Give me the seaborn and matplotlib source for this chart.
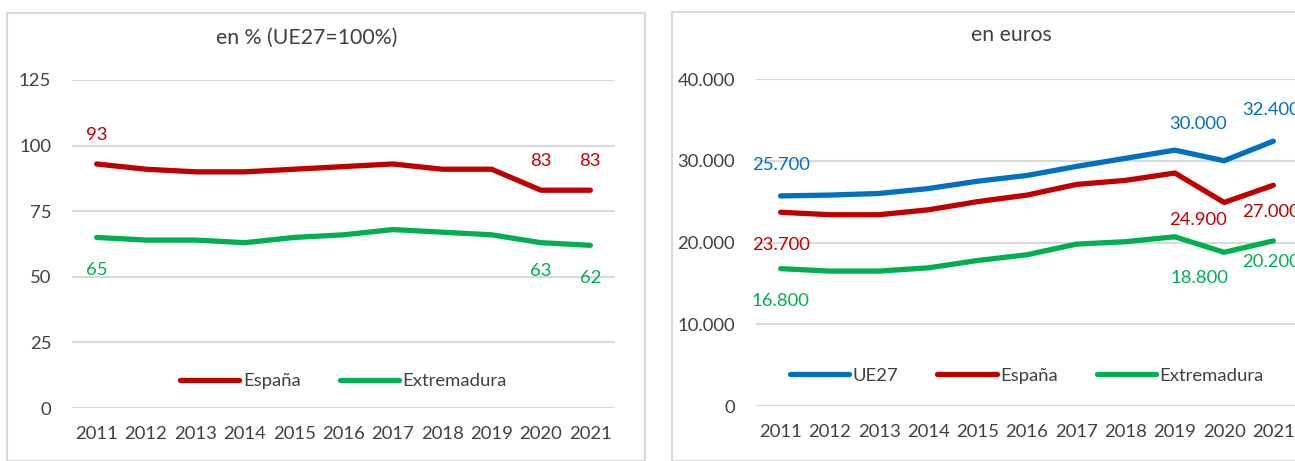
import matplotlib
matplotlib.use("Agg")
import matplotlib.pyplot as plt
from matplotlib.patches import Rectangle
import pandas as pd
import seaborn as sns

# Data
years = [2011, 2012, 2013, 2014, 2015, 2016, 2017, 2018, 2019, 2020, 2021]

pct_espana = [93, 91, 90, 90, 91, 92, 93, 91, 91, 83, 83]
pct_extremadura = [65, 64, 64, 63, 65, 66, 68, 67, 66, 63, 62]

eur_ue27 = [25700, 25800, 26000, 26600, 27500, 28200, 29300, 30300, 31300, 30000, 32400]
eur_espana = [23700, 23400, 23400, 24000, 25000, 25800, 27100, 27600, 28500, 24900, 27000]
eur_extremadura = [16800, 16500, 16500, 16900, 17800, 18500, 19800, 20100, 20700, 18800, 20200]

pct_ticks = [0, 25, 50, 75, 100, 125]
eur_ticks = [0, 10000, 20000, 30000, 40000]

colors = {"UE27": "#0070C0", "España": "#C00000", "Extremadura": "#00B050"}
txt_color = "#404040"
grid_color = "#D9D9D9"
fs = 13.3

sns.set_style("white")
plt.rcParams["font.family"] = ["Lato", "DejaVu Sans"]

fig = plt.figure(figsize=(12.95, 4.61), dpi=100)
W, H = 1295, 461

# chart frames (Excel style boxes)
fig.patches.append(Rectangle((7 / W, 0), 638 / W, 1 - 13 / H, transform=fig.transFigure,
                             fill=False, edgecolor=grid_color, lw=1.5))
fig.patches.append(Rectangle((672 / W, 0), 700 / W, 1 - 12 / H, transform=fig.transFigure,
                             fill=False, edgecolor=grid_color, lw=1.5))

ax1 = fig.add_axes([72 / W, (H - 408) / H, (615 - 72) / W, (408 - 80) / H])
ax2 = fig.add_axes([756 / W, (H - 406) / H, (1298 - 756) / W, (406 - 79) / H])


def fmt_eur(v):
    return f"{v:,.0f}".replace(",", ".")


def draw(ax, df, ticks, ylab_fmt, legend_y):
    sns.lineplot(data=df, x="year", y="value", hue="serie", palette=colors, ax=ax,
                 linewidth=3.8, solid_capstyle="round", legend=True)
    ax.set_xlim(years[0] - 0.5, years[-1] + 0.5)
    ax.set_ylim(ticks[0], ticks[-1])
    ax.set_yticks(ticks)
    ax.set_yticklabels([ylab_fmt(t) for t in ticks])
    ax.set_xticks(years)
    ax.set_xticklabels([str(y) for y in years])
    ax.grid(axis="y", color=grid_color, lw=1.5)
    ax.set_axisbelow(True)
    for s in ax.spines.values():
        s.set_visible(False)
    ax.tick_params(axis="both", length=0, labelsize=fs, colors=txt_color)
    ax.tick_params(axis="y", pad=15)
    ax.tick_params(axis="x", pad=13)
    ax.set_xlabel("")
    ax.set_ylabel("")
    handles, labels = ax.get_legend_handles_labels()
    ax.legend(handles, labels, loc="center", bbox_to_anchor=(0.5, legend_y), ncol=len(labels),
              frameon=False, fontsize=fs, handlelength=3.2, handletextpad=0.2,
              columnspacing=2.1, labelcolor=txt_color)


def label(ax, x, y, text, color, dx, dy):
    ax.annotate(text, (x, y), xytext=(dx, dy), textcoords="offset pixels",
                ha="center", va="center", color=color, fontsize=fs, annotation_clip=False)


# Left chart: en % (UE27=100%)
df1 = pd.DataFrame({
    "year": years * 2,
    "value": pct_espana + pct_extremadura,
    "serie": ["España"] * len(years) + ["Extremadura"] * len(years),
})
draw(ax1, df1, pct_ticks, lambda t: str(t), 0.082)
fig.text(307 / W, 1 - 38 / H, "en % (UE27=100%)", ha="center", va="center",
         fontsize=15.3, color=txt_color)

label(ax1, years[0], pct_espana[0], str(pct_espana[0]), colors["España"], 0, 29)
label(ax1, years[9], pct_espana[9], str(pct_espana[9]), colors["España"], 0, 29)
label(ax1, years[10], pct_espana[10], str(pct_espana[10]), colors["España"], 0, 29)
label(ax1, years[0], pct_extremadura[0], str(pct_extremadura[0]), colors["Extremadura"], 0, -33)
label(ax1, years[9], pct_extremadura[9], str(pct_extremadura[9]), colors["Extremadura"], 0, -28)
label(ax1, years[10], pct_extremadura[10], str(pct_extremadura[10]), colors["Extremadura"], 0, -33)

# Right chart: en euros (labels at the right edge are clipped, as in the original)
df2 = pd.DataFrame({
    "year": years * 3,
    "value": eur_ue27 + eur_espana + eur_extremadura,
    "serie": ["UE27"] * len(years) + ["España"] * len(years) + ["Extremadura"] * len(years),
})
draw(ax2, df2, eur_ticks, fmt_eur, 0.092)
fig.text(1011 / W, 1 - 35 / H, "en euros", ha="center", va="center",
         fontsize=15.3, color=txt_color)

label(ax2, years[0], eur_ue27[0], fmt_eur(eur_ue27[0]), colors["UE27"], 0, 31)
label(ax2, years[9], eur_ue27[9], fmt_eur(eur_ue27[9]), colors["UE27"], -26, 37)
label(ax2, years[10], eur_ue27[10], fmt_eur(eur_ue27[10]), colors["UE27"], -2, 31)
label(ax2, years[0], eur_espana[0], fmt_eur(eur_espana[0]), colors["España"], 0, -33)
label(ax2, years[9], eur_espana[9], fmt_eur(eur_espana[9]), colors["España"], -26, -18)
label(ax2, years[10], eur_espana[10], fmt_eur(eur_espana[10]), colors["España"], -2, -27)
label(ax2, years[0], eur_extremadura[0], fmt_eur(eur_extremadura[0]), colors["Extremadura"], 0, -32)
label(ax2, years[9], eur_extremadura[9], fmt_eur(eur_extremadura[9]), colors["Extremadura"], -25, -26)
label(ax2, years[10], eur_extremadura[10], fmt_eur(eur_extremadura[10]), colors["Extremadura"], -2, -21)

fig.savefig("out.png", dpi=100)
